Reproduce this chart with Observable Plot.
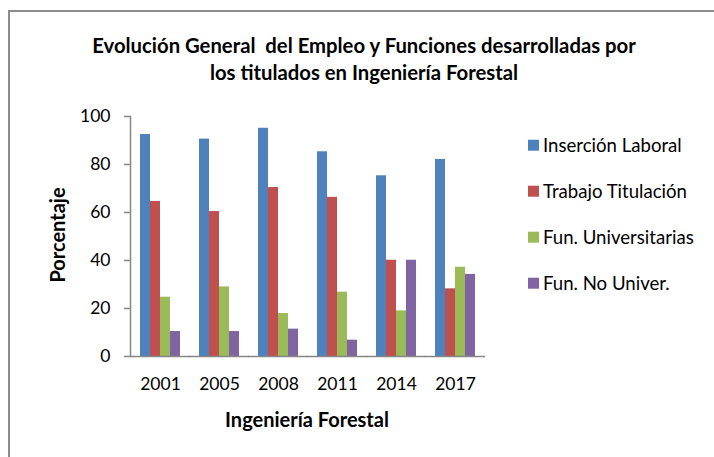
<!DOCTYPE html>
<html>
<head>
<meta charset="utf-8">
<script src="https://cdn.jsdelivr.net/npm/d3@7"></script>
<script src="https://cdn.jsdelivr.net/npm/@observablehq/plot@0.6"></script>
<style>
  html, body { margin: 0; padding: 0; background: #fff; }
  #wrap { position: relative; width: 714px; height: 457px; overflow: hidden; font-family: Lato, "Open Sans", sans-serif; color: #000; }
  #wrap svg { position: absolute; left: 0; top: 0; }
  .border { position: absolute; left: 8px; top: 10px; width: 720px; height: 460px; border-left: 2px solid #8c8c8c; border-top: 2px solid #8c8c8c; }
  .title { position: absolute; left: 0; width: 728px; top: 31.6px; text-align: center; font-weight: bold; font-size: 20.3px; line-height: 27px; white-space: pre; }
  .ylab { position: absolute; left: 57px; top: 235px; transform: translate(-50%, -50%) rotate(-90deg); font-weight: bold; font-size: 20px; line-height: 1; white-space: nowrap; }
  .xlab { position: absolute; left: 307px; top: 418.5px; transform: translate(-50%, -50%); font-weight: bold; font-size: 20px; line-height: 1; white-space: nowrap; }
  .legrow { position: absolute; left: 528px; transform: translateY(-50%); font-size: 18.6px; line-height: 1; white-space: nowrap; display: flex; align-items: center; }
  .legrow span.sw { display: inline-block; width: 11px; height: 11px; margin-right: 4px; }
</style>
</head>
<body>
<div id="wrap"></div>
<script>
const years = ["2001", "2005", "2008", "2011", "2014", "2017"];
const series = ["Inserción Laboral", "Trabajo Titulación", "Fun. Universitarias", "Fun. No Univer."];
const insercionLaboral = [92.5, 90.6, 95.1, 85.3, 75.3, 82.1];
const trabajoTitulacion = [64.6, 60.4, 70.4, 66.3, 40.1, 28.2];
const funUniversitarias = [24.7, 29.0, 17.9, 26.8, 19.0, 37.2];
const funNoUniver = [10.4, 10.4, 11.4, 6.8, 40.1, 34.2];
const yTicks = [0, 20, 40, 60, 80, 100];
const colors = ["#4F81BD", "#C0504D", "#9BBB59", "#8064A2"];
const titleText = ["Evolución General  del Empleo y Funciones desarrolladas por", "los titulados en Ingeniería Forestal"];
const yLabel = "Porcentaje";
const xLabel = "Ingeniería Forestal";

const seriesValues = [insercionLaboral, trabajoTitulacion, funUniversitarias, funNoUniver];
const data = [];
years.forEach((yr, i) => series.forEach((s, j) => data.push({year: yr, series: s, value: seriesValues[j][i]})));

const axisGray = "#868686";
const outerGap = 9; // half the gap between groups, Excel-style
const chart = Plot.plot({
  width: 714,
  height: 457,
  marginLeft: 137,
  marginRight: 236,
  marginTop: 116,
  marginBottom: 101,
  style: {fontFamily: "Lato, 'Open Sans', sans-serif", color: "#000", background: "transparent"},
  fx: {domain: years, paddingInner: 0.28, paddingOuter: 0, label: null},
  x: {domain: series, axis: null, padding: 0},
  y: {domain: [0, 100], label: null},
  color: {domain: series, range: colors},
  marks: [
    Plot.barY(data, {fx: "year", x: "series", y: "value", fill: "series"}),
    Plot.ruleY([0], {stroke: axisGray, strokeWidth: 1.5, insetLeft: -outerGap, insetRight: -outerGap}),
    Plot.frame({anchor: "left", facetAnchor: "left", dx: -outerGap, stroke: axisGray, strokeWidth: 1.5}),
    Plot.axisY({ticks: yTicks, tickSize: 6, tickPadding: 14, dx: -outerGap, stroke: axisGray, strokeWidth: 1.5, fill: "#000", fontSize: 17.5, label: null}),
    Plot.axisFx({anchor: "bottom", tickSize: 0, tickPadding: 21, fontSize: 17.5, fill: "#000", label: null})
  ]
});

const wrap = document.getElementById("wrap");
wrap.appendChild(chart);

const border = document.createElement("div"); border.className = "border"; wrap.appendChild(border);
const title = document.createElement("div"); title.className = "title";
titleText.forEach(t => { const d = document.createElement("div"); d.textContent = t; title.appendChild(d); });
wrap.appendChild(title);
const yl = document.createElement("div"); yl.className = "ylab"; yl.textContent = yLabel; wrap.appendChild(yl);
const xl = document.createElement("div"); xl.className = "xlab"; xl.textContent = xLabel; wrap.appendChild(xl);
const legendY = [145, 191, 237, 283];
series.forEach((s, i) => {
  const row = document.createElement("div"); row.className = "legrow"; row.style.top = legendY[i] + "px";
  const sw = document.createElement("span"); sw.className = "sw"; sw.style.background = colors[i];
  row.appendChild(sw); row.appendChild(document.createTextNode(s));
  wrap.appendChild(row);
});
</script>
</body>
</html>
